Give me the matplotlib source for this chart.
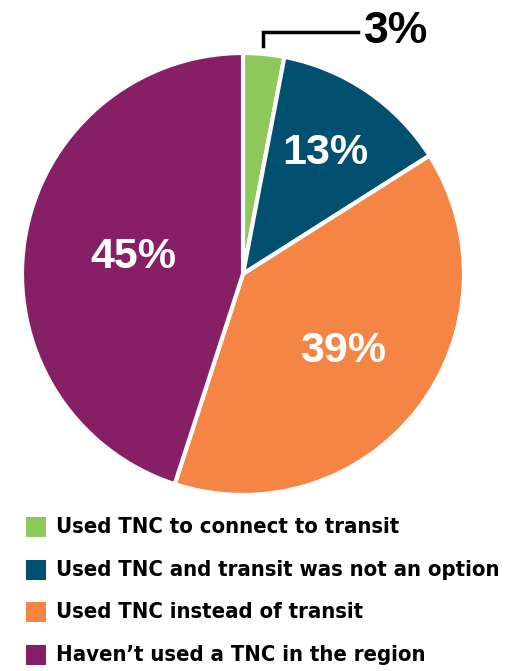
import numpy as np
import matplotlib.pyplot as plt
from matplotlib import font_manager

categories = ['Used TNC to connect to transit',
              'Used TNC and transit was not an option',
              'Used TNC instead of transit',
              "Haven\u2019t used a TNC in the region"]
shares = [3, 13, 39, 45]
colors = ['#8CC85A', '#02506F', '#F58544', '#861F66']

W, H = 510, 671
fig = plt.figure(figsize=(W / 100, H / 100), dpi=100)
ax = fig.add_axes([0, 0, 1, 1])

cx, cy, R = 243, 671 - 274, 221
wedges, _ = ax.pie(shares, colors=colors, startangle=90, counterclock=False,
                   center=(cx, cy), radius=R, frame=True,
                   wedgeprops=dict(edgecolor='white', linewidth=3))
ax.set_xlim(0, W)
ax.set_ylim(0, H)
ax.set_aspect('equal')
ax.axis('off')

# percentage labels inside the wedges
dist = [None, 0.66, 0.57, 0.50]
start = 90
for i, v in enumerate(shares):
    mid = start - v * 3.6 / 2
    start -= v * 3.6
    if dist[i] is None:
        continue
    a = np.deg2rad(mid)
    ax.text(cx + dist[i] * R * np.cos(a), cy + dist[i] * R * np.sin(a),
            f'{v}%', color='white', fontsize=31, fontweight='bold',
            family='Liberation Sans', ha='center', va='center')

# small slice: callout
ax.plot([263, 263, 358], [671 - 46, 671 - 32, 671 - 32], color='black', lw=2.5,
        solid_joinstyle='miter')
ax.text(364, 671 - 31, f'{shares[0]}%', color='black', fontsize=32,
        fontweight='bold', family='Liberation Sans', ha='left', va='center')

# legend
cond = font_manager.FontProperties(family='DejaVu Sans', weight='bold',
                                   stretch='condensed', size=15.8)
for i, (lab, c) in enumerate(zip(categories, colors)):
    y = 671 - (527 + i * 42.7)
    ax.scatter([36], [y], marker='s', s=200, color=c, linewidths=0)
    ax.text(56, y, lab, fontproperties=cond, ha='left', va='center')

fig.savefig('out.png', dpi=100, facecolor='white')
